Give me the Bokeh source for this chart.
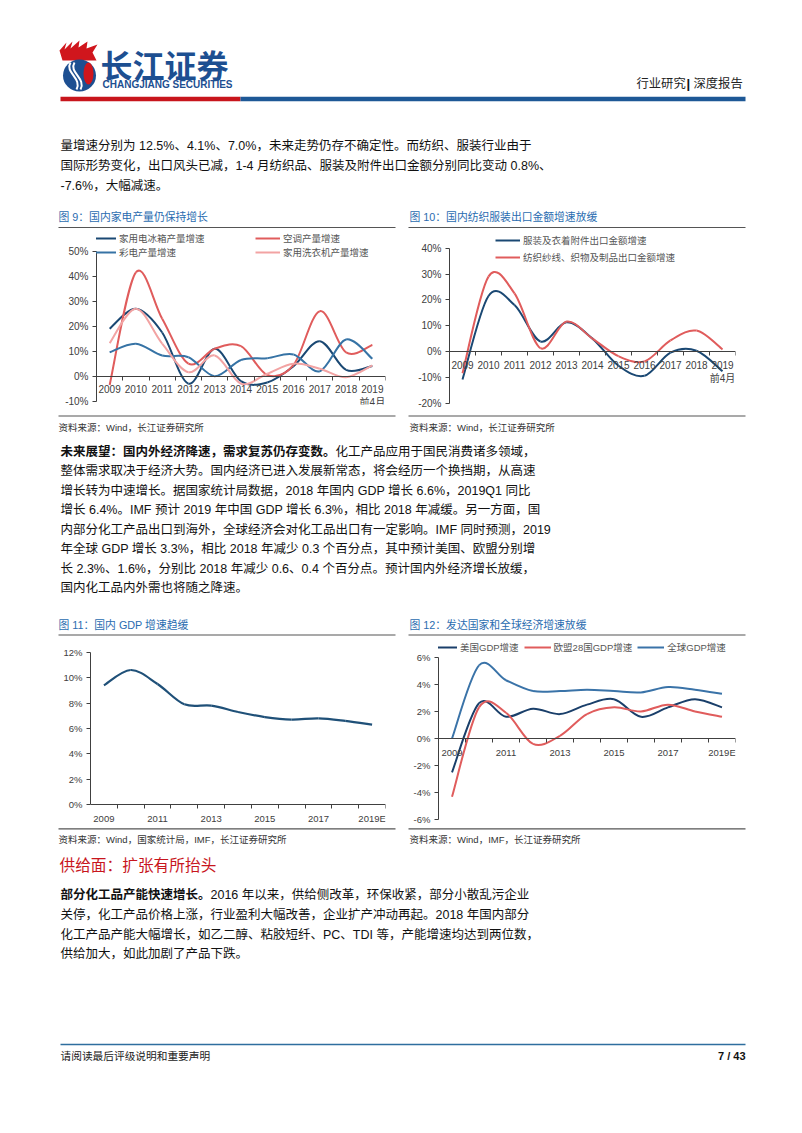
import numpy as np
from bokeh.plotting import figure
from bokeh.layouts import column, row
from bokeh.models import Range1d, FixedTicker, PrintfTickFormatter, Legend, LegendItem, ColumnDataSource
from bokeh.core.properties import value
from bokeh.embed import file_html
from bokeh.resources import INLINE

# ---------------- data ----------------
years = [2009, 2010, 2011, 2012, 2013, 2014, 2015, 2016, 2017, 2018, 2019]

# Fig 9: household appliance output growth (%)
fridge_growth = [19.0, 27.0, 17.5, -3.0, 11.0, -2.0, -2.5, 4.0, 14.0, 2.5, 4.1]
aircon_growth = [-3.5, 41.5, 23.0, 5.0, 11.0, 12.0, 0.5, 4.5, 26.0, 9.5, 12.5]
tv_growth = [9.6, 13.0, 8.3, 7.6, 0.0, 6.5, 7.2, 8.7, 2.0, 14.7, 7.0]
washer_growth = [13.2, 27.0, 13.0, 1.6, 8.3, -3.0, 1.0, 5.0, 3.0, -0.4, 4.3]
fig9_names = ["家用电冰箱产量增速", "空调产量增速", "彩电产量增速", "家用洗衣机产量增速"]

# Fig 10: textile & apparel export growth (%)
apparel_growth = [-10.8, 21.5, 18.0, 3.9, 11.3, 5.0, -5.5, -9.4, -0.4, 0.3, -7.6]
textile_growth = [-8.4, 29.0, 22.5, 1.3, 11.6, 5.0, -1.8, -3.8, 4.3, 8.1, 0.8]
fig10_names = ["服装及衣着附件出口金额增速", "纺织纱线、织物及制品出口金额增速"]

# Fig 11: China GDP growth (%)
china_gdp = [9.4, 10.6, 9.5, 7.9, 7.8, 7.3, 6.9, 6.7, 6.8, 6.6, 6.3]

# Fig 12: developed economies & world GDP growth (%)
us_gdp = [-2.5, 2.6, 1.6, 2.2, 1.8, 2.5, 2.9, 1.6, 2.3, 2.9, 2.3]
eu_gdp = [-4.3, 2.3, 1.9, -0.4, 0.2, 1.8, 2.3, 2.0, 2.5, 2.0, 1.6]
world_gdp = [0.0, 5.4, 4.3, 3.5, 3.5, 3.6, 3.5, 3.4, 3.8, 3.6, 3.3]
fig12_names = ["美国GDP增速", "欧盟28国GDP增速", "全球GDP增速"]

# tick labels
fig9_yticks = [-10, 0, 10, 20, 30, 40, 50]
fig10_yticks = [-20, -10, 0, 10, 20, 30, 40]
fig11_yticks = [0, 2, 4, 6, 8, 10, 12]
fig12_yticks = [-6, -4, -2, 0, 2, 4, 6]
all_year_labels = ["2009", "2010", "2011", "2012", "2013", "2014", "2015", "2016", "2017", "2018", "2019\n前4月"]
odd_year_ticks = [2009, 2011, 2013, 2015, 2017, 2019]
odd_year_labels = ["2009", "2011", "2013", "2015", "2017", "2019E"]

# ---------------- styling ----------------
SANS = "'Liberation Sans', 'Noto Sans CJK SC'"
CJK = "'Noto Sans CJK SC'"
AXIS = "#404040"
TICKTXT = "#404040"
TITLE_BLUE = "#2a6cb0"
NAVY = "#1a4873"
STEEL = "#3673a5"
RED = "#e05c5c"
PINK = "#f2a3a3"
PAGE_W = 802


def smooth_line(p, xs, ys, color, width=2.0):
    X = np.asarray(xs, float)
    Y = np.asarray(ys, float)
    n = len(X)
    Xp = np.concatenate([[X[0]], X, [X[-1]]])
    Yp = np.concatenate([[Y[0]], Y, [Y[-1]]])
    xm1, x0, x1, x2 = Xp[0:n - 1], Xp[1:n], Xp[2:n + 1], Xp[3:n + 2]
    ym1, y0, y1, y2 = Yp[0:n - 1], Yp[1:n], Yp[2:n + 1], Yp[3:n + 2]
    src = ColumnDataSource(dict(
        x0=x0, y0=y0, x1=x1, y1=y1,
        cx0=x0 + (x1 - xm1) / 6.0, cy0=y0 + (y1 - ym1) / 6.0,
        cx1=x1 - (x2 - x0) / 6.0, cy1=y1 - (y2 - y0) / 6.0))
    return p.bezier(x0="x0", y0="y0", x1="x1", y1="y1", cx0="cx0", cy0="cy0",
                    cx1="cx1", cy1="cy1", source=src, line_color=color, line_width=width)


def chart(fig_box, frame_box, yref, yticks, xticks, xlabels, tick_size="10px"):
    fx, fy, fw, fh = fig_box
    l, t, r, b = frame_box
    (va, pa), (vb, pb) = yref
    s = (pb - pa) / (va - vb)
    ytop = va + (pa - t) / s
    ybot = vb - (b - pb) / s
    p = figure(width=fw, height=fh, x_range=Range1d(2008.5, 2019.5), y_range=Range1d(ybot, ytop),
               min_border_left=int(round(l - fx)), min_border_right=int(round(fx + fw - r)),
               min_border_top=int(round(t - fy)), min_border_bottom=int(round(fy + fh - b)),
               toolbar_location=None, output_backend="svg", outline_line_color=None,
               background_fill_color="white", border_fill_color="white")
    p.xgrid.visible = False
    p.ygrid.visible = False
    xa = p.xaxis[0]
    xa.fixed_location = 0
    xa.ticker = FixedTicker(ticks=xticks, minor_ticks=[y + 0.5 for y in years])
    xa.major_label_overrides = {k: v for k, v in zip(xticks, xlabels)}
    xa.major_tick_line_color = None
    xa.major_tick_out = 0
    xa.major_tick_in = 0
    xa.minor_tick_line_color = AXIS
    xa.minor_tick_out = 4
    xa.minor_tick_in = 0
    xa.axis_line_color = AXIS
    xa.major_label_text_font = SANS
    xa.major_label_text_font_size = tick_size
    xa.major_label_text_color = TICKTXT
    xa.major_label_standoff = 4
    ya = p.yaxis[0]
    ya.ticker = FixedTicker(ticks=yticks)
    ya.formatter = PrintfTickFormatter(format="%d%%")
    ya.bounds = (min(yticks), max(yticks))
    ya.major_tick_out = 4
    ya.major_tick_in = 0
    ya.minor_tick_line_color = None
    ya.axis_line_color = AXIS
    ya.major_tick_line_color = AXIS
    ya.major_label_text_font = SANS
    ya.major_label_text_font_size = tick_size
    ya.major_label_text_color = TICKTXT
    ya.major_label_standoff = 4
    return p


def add_legend(p, items, loc, spacing, glyph_w=25, orientation="vertical"):
    lg = Legend(items=[LegendItem(label=lab, renderers=[rd]) for lab, rd in items],
                location=loc, orientation=orientation, padding=0, margin=0, spacing=spacing,
                glyph_width=glyph_w, glyph_height=12, label_height=12, label_standoff=3,
                label_text_font=SANS, label_text_font_size="9.5px", label_text_color="#555555",
                background_fill_alpha=0, border_line_alpha=0)
    p.add_layout(lg)


# ---------------- charts ----------------
# Fig 9
c9 = chart((0, 230, 401, 182), (96, 230, 385, 404), ((50, 250.7), (-10, 400.7)),
           fig9_yticks, years, all_year_labels)
r_fridge = smooth_line(c9, years, fridge_growth, NAVY)
r_air = smooth_line(c9, years, aircon_growth, RED)
r_tv = smooth_line(c9, years, tv_growth, STEEL)
r_wash = smooth_line(c9, years, washer_growth, PINK)
add_legend(c9, [(fig9_names[0], r_fridge), (fig9_names[2], r_tv)], (-5, 145), 0)
add_legend(c9, [(fig9_names[1], r_air), (fig9_names[3], r_wash)], (159, 145), 0)

# Fig 10
c10 = chart((401, 230, 401, 182), (449, 230, 735, 404), ((40, 247.7), (-20, 402.7)),
            fig10_yticks, years, all_year_labels)
r_app = smooth_line(c10, years, apparel_growth, NAVY)
r_tex = smooth_line(c10, years, textile_growth, RED)
add_legend(c10, [(fig10_names[0], r_app), (fig10_names[1], r_tex)], (46, 140), 3)

# Fig 11 (same vertical frame as Fig 12, rows align frames)
c11 = chart((0, 640, 401, 186), (90, 640, 385, 824), ((12, 651.7), (0, 804.3)),
            fig11_yticks, odd_year_ticks, odd_year_labels, tick_size="9.5px")
smooth_line(c11, years, china_gdp, "#1f5078", 2.2)

# Fig 12
c12 = chart((401, 640, 401, 186), (438, 640, 735, 824), ((6, 656.7), (-6, 819.3)),
            fig12_yticks, odd_year_ticks, odd_year_labels, tick_size="9.5px")
r_us = smooth_line(c12, years, us_gdp, "#1a3f6a")
r_eu = smooth_line(c12, years, eu_gdp, RED)
r_w = smooth_line(c12, years, world_gdp, "#3a73a8")
add_legend(c12, [(fig12_names[0], r_us), (fig12_names[1], r_eu), (fig12_names[2], r_w)],
           (-8, 170), 5, glyph_w=27, orientation="horizontal")


# ---------------- text strips ----------------
def strip(y0, h):
    p = figure(width=PAGE_W, height=h, x_range=Range1d(0, PAGE_W), y_range=Range1d(y0 + h, y0),
               min_border=0, toolbar_location=None, output_backend="svg",
               x_axis_type=None, y_axis_type=None, outline_line_color=None,
               background_fill_color="white", border_fill_color="white")
    return p


def txt(p, x, y, s, size, color="#111111", bold=False, align="left", font=SANS):
    p.text(x=[x], y=[y], text=[s], text_font=value(font), text_font_size=value(f"{size}px"),
           text_font_style="bold" if bold else "normal", text_color=color,
           text_align=align, text_baseline="middle")


def rule(p, x0, x1, y, color="#555555", w=1.2):
    p.segment(x0=[x0], y0=[y], x1=[x1], y1=[y], line_color=color, line_width=w)


def para(p, x, ys, lines, size=12.5, lead=None):
    for i, (y, s) in enumerate(zip(ys, lines)):
        if i == 0 and lead:
            txt(p, x, y, lead, size, bold=True)
            txt(p, x + len(lead) * size, y, s, size)
        else:
            txt(p, x, y, s, size)


# Strip A (0 - 230)
sa = strip(0, 230)
# logo emblem
sa.patch(x=[59, 66, 64, 72, 70, 79, 78, 87, 86, 97, 92, 96, 62],
         y=[50, 42, 49, 41, 48, 40, 47, 41, 48, 44, 52, 60, 60], fill_color="#d0161d", line_color=None)
sa.ellipse(x=[79], y=[75], width=[33], height=[32], fill_color="#1d4f91", line_color=None)
sa.ellipse(x=[88], y=[73], width=[10], height=[22], fill_color="#d0161d", line_color=None)
sa.bezier(x0=[70, 74], y0=[62, 62], x1=[76, 80], y1=[89, 89], cx0=[64, 68], cy0=[72, 72],
          cx1=[82, 86], cy1=[78, 78], line_color="white", line_width=2)
txt(sa, 100, 63, "长江证券", 32, color="#1d4f91", bold=True, font=CJK)
txt(sa, 102, 84, "CHANGJIANG SECURITIES", 10, color="#1d4f91", bold=True, font="'Liberation Sans'")
txt(sa, 636, 83, "行业研究", 12.3, color="#222222")
txt(sa, 686, 83, "|", 13, color="#111111", bold=True)
txt(sa, 693, 83, "深度报告", 12.3, color="#222222")
rule(sa, 60, 240, 98.5, color="#c8151c", w=4.5)
rule(sa, 240, 745, 98.5, color="#1d5896", w=4.5)
para(sa, 60, [145, 165.3, 185], [
    "量增速分别为 12.5%、4.1%、7.0%，未来走势仍存不确定性。而纺织、服装行业由于",
    "国际形势变化，出口风头已减，1-4 月纺织品、服装及附件出口金额分别同比变动 0.8%、",
    "-7.6%，大幅减速。",
])
txt(sa, 58, 216, "图 9：国内家电产量仍保持增长", 10.8, color=TITLE_BLUE)
txt(sa, 409, 216, "图 10：国内纺织服装出口金额增速放缓", 10.8, color=TITLE_BLUE)
rule(sa, 58, 395, 227)
rule(sa, 408, 745, 227)

# Strip C (412 - 640)
sc = strip(412, 228)
rule(sc, 58, 395, 415.5)
rule(sc, 408, 745, 415.5)
txt(sc, 58, 427, "资料来源：Wind，长江证券研究所", 9.5, color="#333333")
txt(sc, 409, 427, "资料来源：Wind，长江证券研究所", 9.5, color="#333333")
para(sc, 60, [451, 470.5, 490, 509.5, 529, 548.5, 568, 587.5], [
    "化工产品应用于国民消费诸多领域，",
    "整体需求取决于经济大势。国内经济已进入发展新常态，将会经历一个换挡期，从高速",
    "增长转为中速增长。据国家统计局数据，2018 年国内 GDP 增长 6.6%，2019Q1 同比",
    "增长 6.4%。IMF 预计 2019 年中国 GDP 增长 6.3%，相比 2018 年减缓。另一方面，国",
    "内部分化工产品出口到海外，全球经济会对化工品出口有一定影响。IMF 同时预测，2019",
    "年全球 GDP 增长 3.3%，相比 2018 年减少 0.3 个百分点，其中预计美国、欧盟分别增",
    "长 2.3%、1.6%，分别比 2018 年减少 0.6、0.4 个百分点。预计国内外经济增长放缓，",
    "国内化工品内外需也将随之降速。",
], lead="未来展望：国内外经济降速，需求复苏仍存变数。")
txt(sc, 58, 624.3, "图 11：国内 GDP 增速趋缓", 10.8, color=TITLE_BLUE)
txt(sc, 409, 624.3, "图 12：发达国家和全球经济增速放缓", 10.8, color=TITLE_BLUE)
rule(sc, 58, 395, 634.5)
rule(sc, 408, 745, 634.5)

# Strip E (826 - 1133)
se = strip(826, 307)
rule(se, 58, 395, 828.3)
rule(se, 408, 745, 828.3)
txt(se, 58, 839.3, "资料来源：Wind，国家统计局，IMF，长江证券研究所", 9.5, color="#333333")
txt(se, 409, 839.3, "资料来源：Wind，IMF，长江证券研究所", 9.5, color="#333333")
txt(se, 59, 865, "供给面：扩张有所抬头", 15.7, color="#c8161d")
para(se, 60, [894.3, 914, 934, 953.5], [
    "2016 年以来，供给侧改革，环保收紧，部分小散乱污企业",
    "关停，化工产品价格上涨，行业盈利大幅改善，企业扩产冲动再起。2018 年国内部分",
    "化工产品产能大幅增长，如乙二醇、粘胶短纤、PC、TDI 等，产能增速均达到两位数，",
    "供给加大，如此加剧了产品下跌。",
], lead="部分化工品产能快速增长。")
rule(se, 60, 745, 1044, color="#2e6e9e", w=1.5)
txt(se, 60, 1055, "请阅读最后评级说明和重要声明", 10.7, color="#222222")
txt(se, 745, 1055, "7 / 43", 11, color="#111111", bold=True, align="right")

layout = column(sa, row(c9, c10, spacing=0), sc, row(c11, c12, spacing=0), se, spacing=0)

with open("out.html", "w") as f:
    f.write(file_html(layout, INLINE))
